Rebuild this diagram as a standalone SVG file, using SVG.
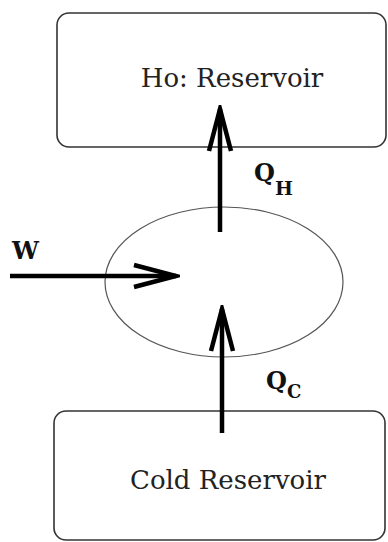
<svg xmlns="http://www.w3.org/2000/svg" width="388" height="542" viewBox="0 0 388 542">
<style>
.box{fill:#fff;stroke:#333;stroke-width:1.6}
.name{font-family:'DejaVu Serif','Liberation Serif',serif;font-size:26px;fill:#222;text-anchor:middle}
.lbl{font-family:'DejaVu Serif','Liberation Serif',serif;font-weight:bold;fill:#111}
.arr{stroke:#000;stroke-width:4.5;fill:none;marker-end:url(#head)}
.eng{fill:none;stroke:#555;stroke-width:1.2}
</style>
<defs>
<marker id="head" markerUnits="userSpaceOnUse" viewBox="-50 -16 54 32" refX="0" refY="0" markerWidth="54" markerHeight="32" orient="auto">
<path d="M-42,-11 L0,0 L-42,11" fill="none" stroke="#000" stroke-width="4.5" stroke-linejoin="miter" stroke-miterlimit="10"/>
</marker>
</defs>
<rect width="388" height="542" fill="#fff"/>
<g id="hot">
<rect class="box" x="57" y="13" width="329" height="134" rx="12"/>
<text class="name" x="232" y="87">Ho: Reservoir</text>
</g>
<g id="cold">
<rect class="box" x="54" y="411" width="331" height="129" rx="12"/>
<text class="name" x="228" y="489">Cold Reservoir</text>
</g>
<g id="engine">
<ellipse class="eng" cx="224" cy="282" rx="119" ry="75"/>
</g>
<g id="connectors">
<line class="arr" x1="220" y1="232" x2="220" y2="109"/>
<line class="arr" x1="222" y1="433" x2="222" y2="309"/>
<line class="arr" x1="10" y1="276" x2="176" y2="276"/>
</g>
<g id="labels">
<text class="lbl" x="12" y="259" font-size="24">W</text>
<text class="lbl" x="254" y="181" font-size="24">Q<tspan font-size="19" dy="14">H</tspan></text>
<text class="lbl" x="266" y="389" font-size="24">Q<tspan font-size="18" dy="9">C</tspan></text>
</g>
</svg>
